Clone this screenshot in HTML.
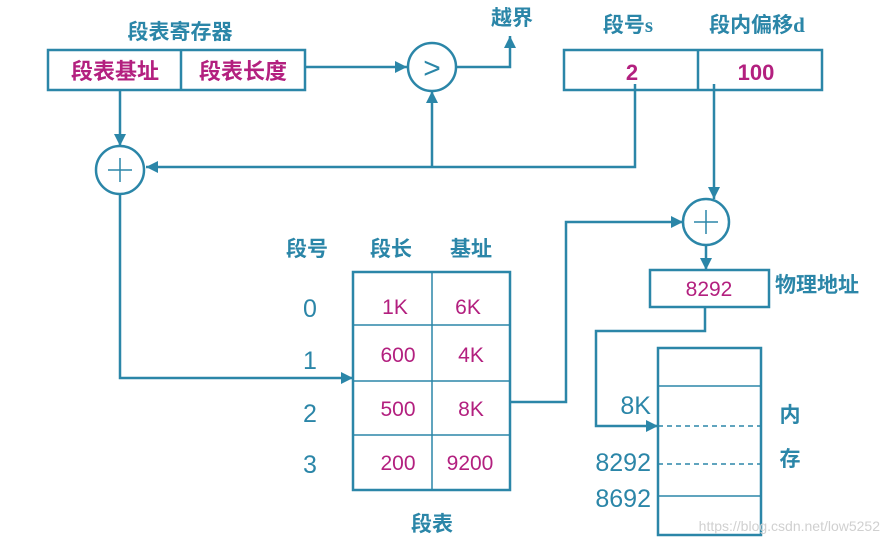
<!DOCTYPE html>
<html><head><meta charset="utf-8"><style>
html,body{margin:0;padding:0;background:#fff;}
svg{display:block;}
text{font-family:"Liberation Sans","Noto Sans CJK SC",sans-serif;}
.t{fill:#2b86a8;font-weight:bold;font-size:21px;}
.m{fill:#b3207f;font-size:21px;}
.mb{fill:#b3207f;font-size:22px;font-weight:bold;}
.n{fill:#2b86a8;font-size:25px;}
.l{stroke:#2b86a8;stroke-width:2.5;fill:none;}
.thin{stroke:#2b86a8;stroke-width:1.5;fill:none;}
</style></head><body>
<svg width="890" height="544" viewBox="0 0 890 544">
<defs><marker id="a" markerWidth="13" markerHeight="13" refX="12" refY="6" orient="auto" markerUnits="userSpaceOnUse"><path d="M0,0 L12,6 L0,12 z" fill="#2b86a8"/></marker></defs>
<text class="t" x="180" y="39" text-anchor="middle" font-size="22">段表寄存器</text>
<text class="t" x="512" y="25" text-anchor="middle">越界</text>
<text class="t" x="628" y="32" text-anchor="middle">段号<tspan font-family="Liberation Serif">s</tspan></text>
<text class="t" x="757" y="32" text-anchor="middle">段内偏移<tspan font-family="Liberation Serif">d</tspan></text>
<rect class="l" x="48" y="50" width="257" height="40"/>
<line class="l" x1="181" y1="50" x2="181" y2="90"/>
<text class="mb" x="115" y="79" text-anchor="middle">段表基址</text>
<text class="mb" x="243" y="79" text-anchor="middle">段表长度</text>
<rect class="l" x="564" y="50" width="258" height="40"/>
<line class="l" x1="698" y1="50" x2="698" y2="90"/>
<text class="mb" x="632" y="80" text-anchor="middle" font-family="Liberation Serif">2</text>
<text class="mb" x="756" y="80" text-anchor="middle" font-family="Liberation Serif">100</text>
<circle class="l" cx="432" cy="67" r="24"/>
<text x="432" y="78" text-anchor="middle" font-size="30" fill="#2b86a8">&gt;</text>
<line class="l" x1="305" y1="67" x2="407" y2="67" marker-end="url(#a)"/>
<polyline class="l" points="456,67 510,67 510,36" marker-end="url(#a)"/>
<circle class="l" cx="120" cy="170" r="24"/>
<line class="thin" x1="108" y1="170" x2="132" y2="170"/><line class="thin" x1="120" y1="158" x2="120" y2="182"/>
<line class="l" x1="120" y1="90" x2="120" y2="146" marker-end="url(#a)"/>
<polyline class="l" points="635,84 635,167 146,167" marker-end="url(#a)"/>
<line class="l" x1="432" y1="167" x2="432" y2="91" marker-end="url(#a)"/>
<polyline class="l" points="120,194 120,378 353,378" marker-end="url(#a)"/>
<text class="t" x="307" y="256" text-anchor="middle">段号</text>
<text class="t" x="391" y="256" text-anchor="middle">段长</text>
<text class="t" x="471" y="256" text-anchor="middle">基址</text>
<rect class="l" x="353" y="272" width="157" height="218"/>
<line class="thin" x1="432" y1="272" x2="432" y2="490"/>
<line class="thin" x1="353" y1="325" x2="510" y2="325"/>
<line class="thin" x1="353" y1="381" x2="510" y2="381"/>
<line class="thin" x1="353" y1="435" x2="510" y2="435"/>
<text class="n" x="310" y="317" text-anchor="middle">0</text>
<text class="n" x="310" y="369" text-anchor="middle">1</text>
<text class="n" x="310" y="422" text-anchor="middle">2</text>
<text class="n" x="310" y="473" text-anchor="middle">3</text>
<text class="m" x="395" y="314" text-anchor="middle">1K</text>
<text class="m" x="468" y="314" text-anchor="middle">6K</text>
<text class="m" x="398" y="362" text-anchor="middle">600</text>
<text class="m" x="471" y="362" text-anchor="middle">4K</text>
<text class="m" x="398" y="416" text-anchor="middle">500</text>
<text class="m" x="471" y="416" text-anchor="middle">8K</text>
<text class="m" x="398" y="470" text-anchor="middle">200</text>
<text class="m" x="470" y="470" text-anchor="middle">9200</text>
<text class="t" x="432" y="531" text-anchor="middle">段表</text>
<polyline class="l" points="510,402 566,402 566,222 683,222" marker-end="url(#a)"/>
<line class="l" x1="714" y1="84" x2="714" y2="199" marker-end="url(#a)"/>
<circle class="l" cx="706" cy="222" r="23"/>
<line class="thin" x1="694" y1="222" x2="718" y2="222"/><line class="thin" x1="706" y1="210" x2="706" y2="234"/>
<line class="l" x1="706" y1="245" x2="706" y2="270" marker-end="url(#a)"/>
<rect class="l" x="650" y="270" width="119" height="37"/>
<text class="m" x="709" y="296" text-anchor="middle">8292</text>
<text class="t" x="817" y="292" text-anchor="middle">物理地址</text>
<polyline class="l" points="705,307 705,331 596,331 596,426 658,426" marker-end="url(#a)"/>
<rect class="l" x="658" y="348" width="103" height="187"/>
<line class="thin" x1="658" y1="386" x2="761" y2="386"/>
<line class="thin" x1="658" y1="426" x2="761" y2="426" stroke-dasharray="5,4"/>
<line class="thin" x1="658" y1="464" x2="761" y2="464" stroke-dasharray="5,4"/>
<line class="thin" x1="658" y1="496" x2="761" y2="496"/>
<text class="n" x="651" y="414" text-anchor="end" font-size="21">8K</text>
<text class="n" x="651" y="471" text-anchor="end" font-size="21">8292</text>
<text class="n" x="651" y="507" text-anchor="end" font-size="21">8692</text>
<text class="t" x="790" y="422" text-anchor="middle">内</text>
<text class="t" x="790" y="466" text-anchor="middle">存</text>
<text x="880" y="531" text-anchor="end" font-size="14" fill="#d0d0d0">https://blog.csdn.net/low5252</text>
</svg>
</body></html>
